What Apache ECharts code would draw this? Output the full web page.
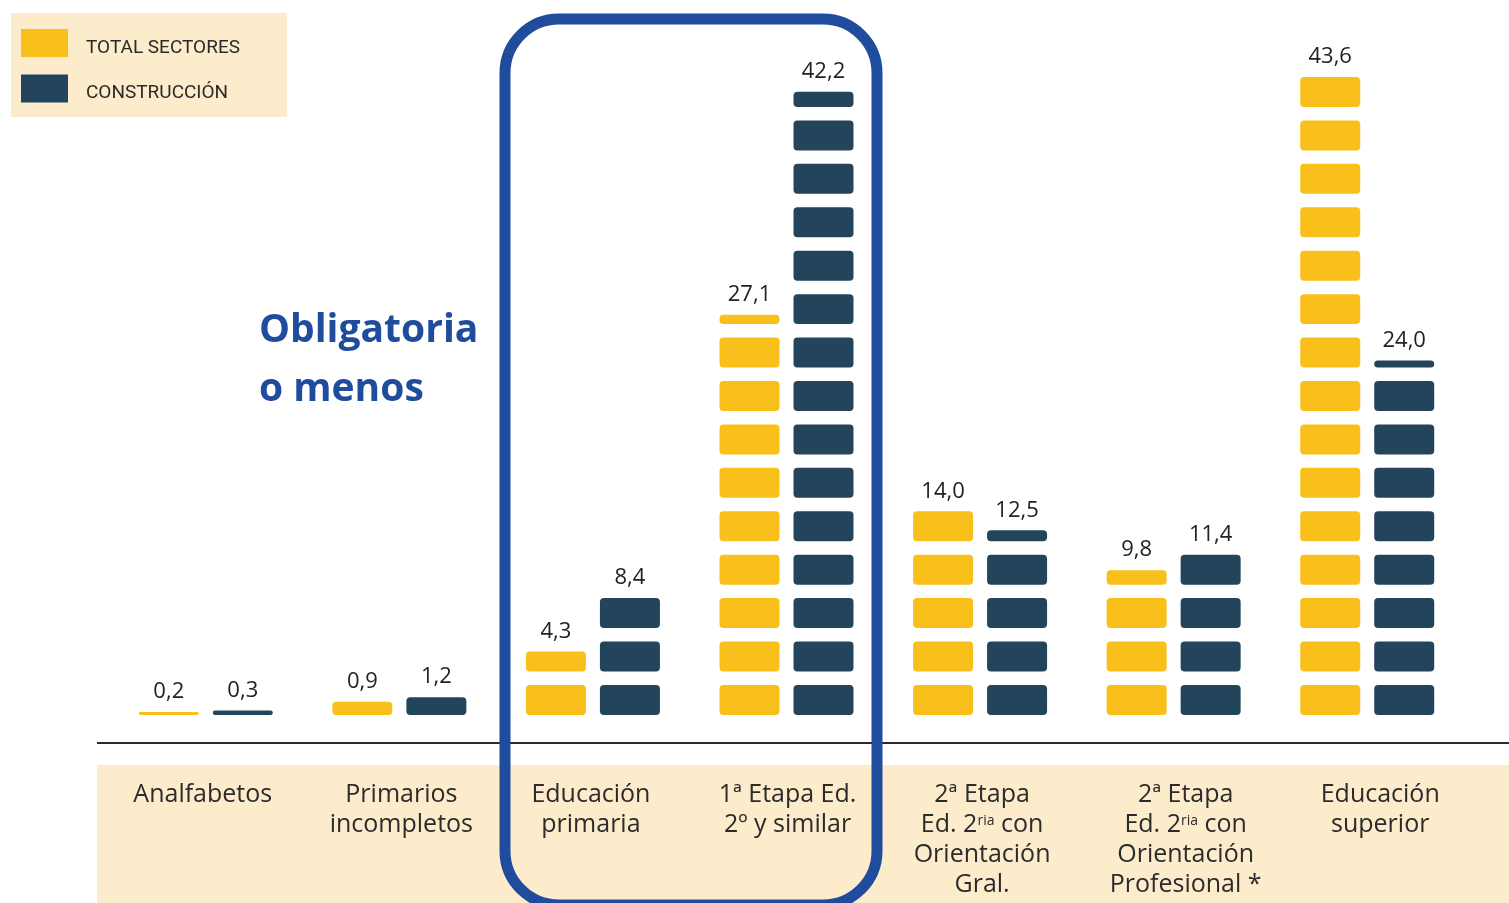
<!DOCTYPE html>
<html>
<head>
<meta charset="utf-8">
<script src="https://cdn.jsdelivr.net/npm/echarts@6/dist/echarts.min.js"></script>
<style>
  html, body { margin: 0; padding: 0; background: #fff; }
  #chart { width: 1509px; height: 903px; }
</style>
</head>
<body>
<div id="chart"></div>
<script>
const YELLOW = "#F9BF1B";
const DARK = "#23455B";
const BEIGE = "#FDECCC";
const FRAME = "#1F4C9C";
const TEXT = "#222";

const categories = [
  "Analfabetos",
  "Primarios\nincompletos",
  "Educación\nprimaria",
  "1ª Etapa Ed.\n2º y similar",
  "2ª Etapa\nEd. 2^ria con\nOrientación\nGral.",
  "2ª Etapa\nEd. 2^ria con\nOrientación\nProfesional *",
  "Educación\nsuperior",
];
const totalSectores = [0.2, 0.9, 4.3, 27.1, 14.0, 9.8, 43.6];
const construccion = [0.3, 1.2, 8.4, 42.2, 12.5, 11.4, 24.0];
const seriesNames = ["TOTAL SECTORES", "CONSTRUCCIÓN"];

// segment layout, in value units: one block every PITCH, each block SEG tall
const PITCH = 2.94;
const SEG = 2.03;
const Y_MIN = -1.9;
const Y_MAX = 45;
const PX_PER_UNIT = 14.77;
const AXIS_Y = 743;
const BAR_W = 60;
const BAR_OFF = 37;
// small horizontal nudges for category labels (px)
const labelNudge = [-3, 2, -2, 1, 2, 12, 13];

const chart = echarts.init(document.getElementById("chart"), null, { renderer: "canvas" });

const fmt = (v) => v.toFixed(1).replace(".", ",");

function blocks(offset) {
  return (params, api) => {
    const idx = api.value(0);
    const v = api.value(1);
    const cx = api.coord([idx, 0])[0] + offset;
    const color = api.visual("color");
    const children = [];
    let top = 0;
    for (let k = 0; k * PITCH < v; k++) {
      const lo = k * PITCH;
      const hi = Math.min(v, lo + SEG);
      const y0 = api.coord([idx, lo])[1];
      const y1 = api.coord([idx, hi])[1];
      const h = y0 - y1;
      children.push({
        type: "rect",
        shape: { x: cx - BAR_W / 2, y: y1, width: BAR_W, height: h, r: Math.min(4, h / 2) },
        style: { fill: color },
      });
      top = hi;
    }
    children.push({
      type: "text",
      style: {
        text: fmt(v),
        x: cx,
        y: api.coord([idx, top])[1] - 9,
        align: "center",
        verticalAlign: "bottom",
        fill: TEXT,
        font: "22px 'Open Sans'",
      },
    });
    return { type: "group", children };
  };
}

function segSeries(name, data, color, offset) {
  return {
    name,
    type: "custom",
    data: data.map((v, i) => [i, v]),
    encode: { x: 0, y: 1 },
    itemStyle: { color },
    renderItem: blocks(offset),
  };
}

chart.setOption({
  animation: false,
  grid: {
    left: 109,
    right: 45,
    top: AXIS_Y - (Y_MAX - Y_MIN) * PX_PER_UNIT,
    bottom: 903 - AXIS_Y,
  },
  legend: {
    orient: "vertical",
    left: 21,
    top: 29,
    padding: 0,
    itemWidth: 47,
    itemHeight: 28,
    itemGap: 17,
    icon: "rect",
    data: seriesNames,
    formatter: (name) => "{t|" + name + "}",
    textStyle: {
      fontFamily: "Roboto",
      fontSize: 19,
      color: "#2a2a2a",
      padding: [0, 0, 0, 13],
      rich: {
        t: { fontFamily: "Roboto", fontSize: 19, color: "#2a2a2a", padding: [10, 0, 0, 0] },
      },
    },
  },
  xAxis: {
    type: "category",
    data: categories.map((c, i) => ({
      value: c,
      textStyle: {
        padding: labelNudge[i] > 0 ? [0, 0, 0, 2 * labelNudge[i]] : [0, -2 * labelNudge[i], 0, 0],
      },
    })),
    axisLine: { show: false },
    axisTick: { show: false },
    axisLabel: {
      interval: 0,
      margin: 37,
      verticalAlign: "top",
      color: "#2b2b2b",
      fontFamily: "Open Sans",
      fontSize: 25,
      lineHeight: 30,
      formatter: (v) => v.replace(/\^ria/g, "{sup|ria}"),
      rich: {
        sup: { fontSize: 14, fontFamily: "Open Sans", color: "#2b2b2b", verticalAlign: "top", padding: [4, 0, 0, 0] },
      },
    },
  },
  yAxis: { type: "value", min: Y_MIN, max: Y_MAX, show: false },
  series: [
    segSeries(seriesNames[0], totalSectores, YELLOW, -BAR_OFF),
    segSeries(seriesNames[1], construccion, DARK, BAR_OFF),
  ],
  graphic: [
    { type: "rect", z: -10, shape: { x: 11, y: 13, width: 276, height: 104 }, style: { fill: BEIGE } },
    { type: "rect", z: -10, shape: { x: 97, y: 765, width: 1412, height: 138 }, style: { fill: BEIGE } },
    { type: "line", z: 5, shape: { x1: 97, y1: AXIS_Y, x2: 1509, y2: AXIS_Y }, style: { stroke: "#2a2a2a", lineWidth: 2 } },
    {
      type: "text", z: 20, left: 259, top: 301,
      style: {
        text: "Obligatoria\no menos",
        fill: FRAME,
        font: "bold 39px 'Open Sans'",
        lineHeight: 59,
      },
    },
    {
      type: "rect", z: 50,
      shape: { x: 505, y: 19, width: 372, height: 886, r: 54 },
      style: { fill: "none", stroke: FRAME, lineWidth: 11 },
    },
  ],
});
</script>
</body>
</html>
